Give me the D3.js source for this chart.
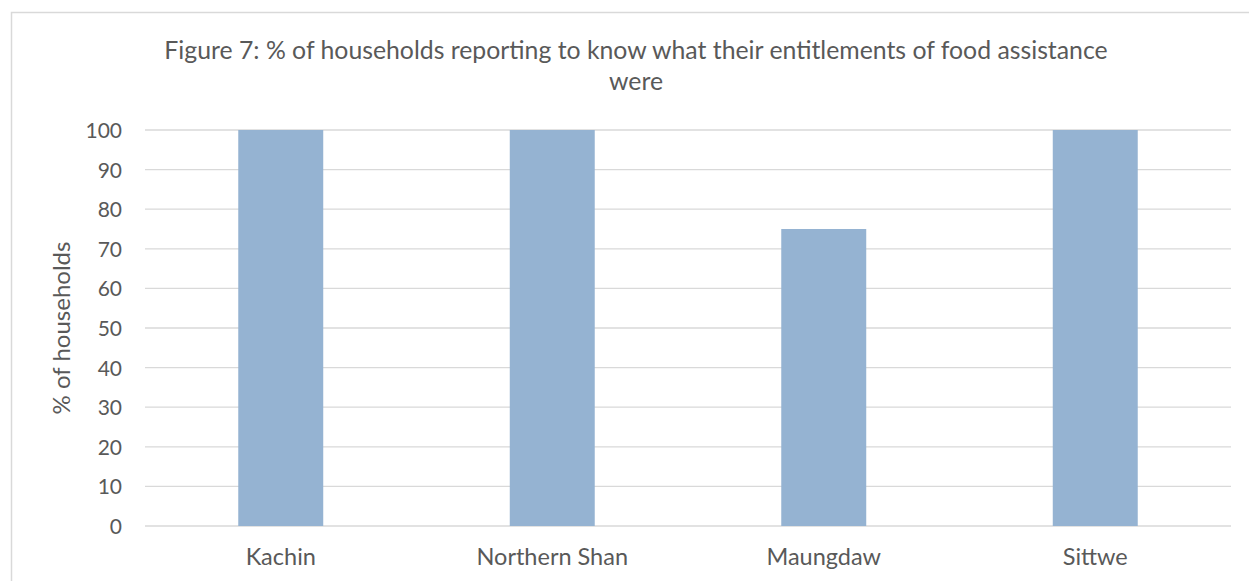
<!DOCTYPE html>
<html>
<head>
<meta charset="utf-8">
<script src="https://cdn.jsdelivr.net/npm/d3@7"></script>
<style>
  html, body { margin: 0; padding: 0; background: #fff; }
  svg { display: block; }
  text { font-family: Lato, "Open Sans", sans-serif; fill: #595959; }
</style>
</head>
<body>
<svg id="chart" width="1249" height="581"></svg>
<script>
// Regions surveyed
const categories = ["Kachin", "Northern Shan", "Maungdaw", "Sittwe"];
// % of households that knew their food assistance entitlements
const values = [100, 100, 75, 100];
const yTicks = [0, 10, 20, 30, 40, 50, 60, 70, 80, 90, 100];
const titleLines = [
  "Figure 7: % of households reporting to know what their entitlements of food assistance",
  "were"
];
const yAxisTitle = "% of households";

const W = 1249, H = 581;
const plot = { left: 145, right: 1231, top: 130, bottom: 526 };

const svg = d3.select("#chart");

// chart frame
svg.append("rect")
  .attr("x", 11.5).attr("y", 12.5)
  .attr("width", W + 20).attr("height", H + 20)
  .attr("fill", "#fff")
  .attr("stroke", "#d9d9d9").attr("stroke-width", 1.5);

const x = d3.scaleBand()
  .domain(categories)
  .range([plot.left, plot.right])
  .paddingInner(0.687)
  .paddingOuter(0.3435);

const y = d3.scaleLinear()
  .domain([0, 100])
  .range([plot.bottom, plot.top]);

// horizontal gridlines
svg.append("g")
  .selectAll("line")
  .data(yTicks)
  .join("line")
  .attr("x1", plot.left).attr("x2", plot.right)
  .attr("y1", d => y(d)).attr("y2", d => y(d))
  .attr("stroke", "#d9d9d9").attr("stroke-width", 1.3);

// bars
svg.append("g")
  .selectAll("rect")
  .data(categories)
  .join("rect")
  .attr("x", d => x(d))
  .attr("width", x.bandwidth())
  .attr("y", (d, i) => y(values[i]))
  .attr("height", (d, i) => y(0) - y(values[i]))
  .attr("fill", "#95b3d2");

// y axis labels
const yAxis = d3.axisLeft(y).tickValues(yTicks).tickSize(0).tickPadding(0);
const gy = svg.append("g")
  .attr("transform", `translate(${plot.left - 23},0)`)
  .call(yAxis);
gy.select(".domain").remove();
gy.selectAll("text")
  .attr("font-size", 21)
  .attr("font-family", "Lato, 'Open Sans', sans-serif")
  .attr("fill", "#595959")
  .attr("dy", "0.36em");

// x axis labels
const xAxis = d3.axisBottom(x).tickSize(0).tickPadding(0);
const gx = svg.append("g")
  .attr("transform", `translate(0,${plot.bottom})`)
  .call(xAxis);
gx.select(".domain").remove();
gx.selectAll("text")
  .attr("font-size", 23.5)
  .attr("font-family", "Lato, 'Open Sans', sans-serif")
  .attr("fill", "#595959")
  .attr("dy", 0)
  .attr("y", 39);

// y axis title
svg.append("text")
  .attr("transform", `translate(70,${(plot.top + plot.bottom) / 2}) rotate(-90)`)
  .attr("text-anchor", "middle")
  .attr("font-size", 24)
  .text(yAxisTitle);

// chart title
svg.append("g")
  .selectAll("text")
  .data(titleLines)
  .join("text")
  .attr("x", 636)
  .attr("y", (d, i) => 58.5 + i * 31.5)
  .attr("text-anchor", "middle")
  .attr("font-size", 24.8)
  .text(d => d);
</script>
</body>
</html>
